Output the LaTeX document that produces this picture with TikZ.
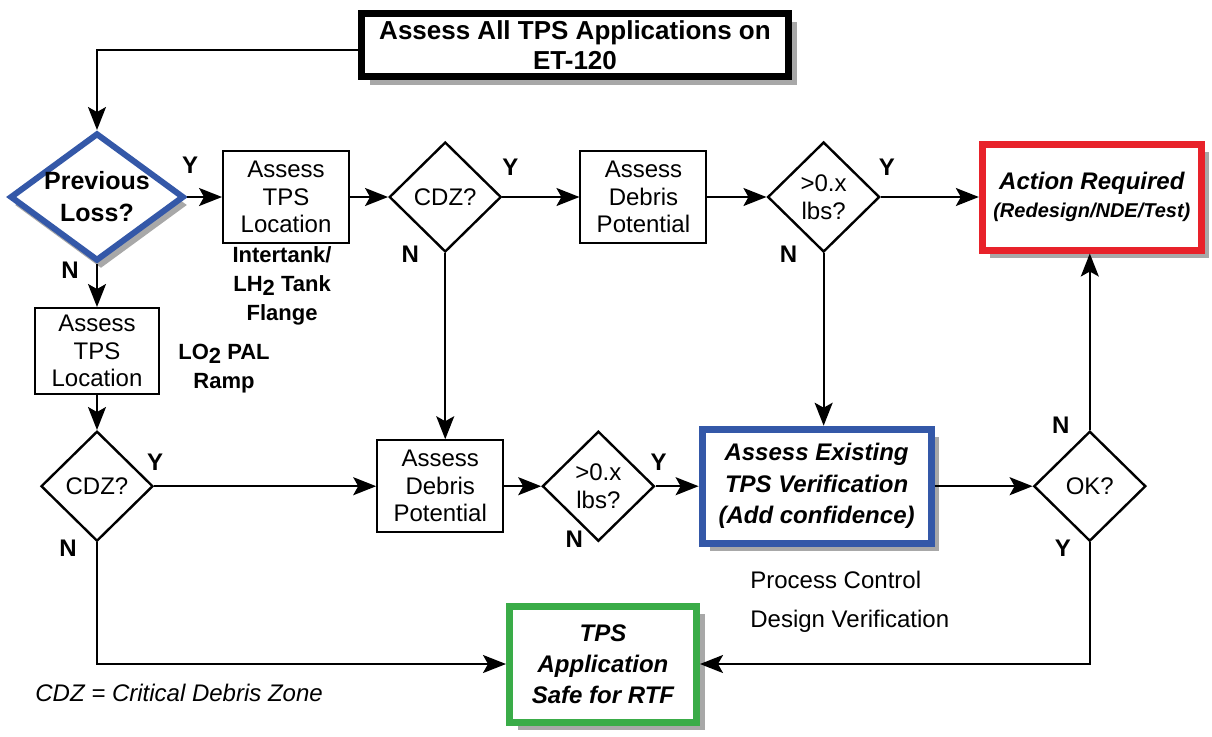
\documentclass[tikz,border=0pt]{standalone}
\usepackage{fontspec}
\setmainfont{Liberation Sans}
\usetikzlibrary{
	positioning,
	arrows.meta,
	shapes.geometric,
	shadows
}

\definecolor{lossblue}{RGB}{52,88,168}
\definecolor{actred}{RGB}{232,34,42}
\definecolor{safegreen}{RGB}{58,172,72}
\definecolor{shadowgray}{RGB}{168,168,168}

\begin{document}
\begin{tikzpicture}[
			x=0.5pt, y=-0.5pt,
			box/.style={
				draw,
				line width=1pt,
				minimum width=63pt,
				minimum height=46pt,
				inner sep=2pt,
				align=center,
				font=\fontsize{12}{13.75}\selectfont
			},
			decide/.style={
				diamond,
				draw,
				line width=1.2pt,
				minimum width=56pt,
				minimum height=55pt,
				inner sep=0pt,
				align=center,
				font=\fontsize{12}{13.75}\selectfont
			},
			heavy/.style={
				draw,
				line width=3.5pt,
				fill=white,
				inner sep=1pt,
				align=center,
				drop shadow={shadow xshift=4pt,shadow yshift=-4pt,fill=shadowgray,opacity=1}
			},
			yn/.style={font=\bfseries\fontsize{12}{14}\selectfont,inner sep=0pt},
			tag/.style={font=\bfseries\fontsize{11}{14.5}\selectfont,align=center,inner sep=0pt},
			note/.style={font=\fontsize{12}{14}\selectfont,inner sep=0pt},
			arrow/.style={-{Stealth[length=11.5pt,width=9pt,inset=2.5pt]},line width=1pt}
			]
			
			\useasboundingbox (0,0) rectangle (1212,736);
			
			\node[heavy,minimum width=213.5pt,minimum height=31.5pt,
				font=\bfseries\fontsize{13}{15}\selectfont] (top) at (575,45)
			{Assess All TPS Applications on\\ET-120};
			
			\node[decide,draw=lossblue,line width=3pt,fill=white,aspect=1.36,
				minimum width=84pt,minimum height=60pt,
				drop shadow={shadow xshift=2pt,shadow yshift=-4pt,fill=shadowgray,opacity=1},
				font=\bfseries\fontsize{12.5}{16}\selectfont] (loss) at (97,197)
			{Previous\\Loss?};
			
			\node[box,right=17.5pt of loss] (locA)
			{Assess\\TPS\\Location};
			
			\node[decide,right=19pt of locA] (cdzA)
			{CDZ?};
			
			\node[box,right=38.5pt of cdzA] (debA)
			{Assess\\Debris\\Potential};
			
			\node[decide,right=29.5pt of debA] (lbsA)
			{>0.x\\lbs?};
			
			\node[heavy,draw=actred,right=49pt of lbsA,minimum width=109.5pt,minimum height=53pt,
				font=\bfseries\itshape\fontsize{12}{14}\selectfont] (act)
			{Action Required\\{\fontsize{10}{14}\selectfont(Redesign/NDE/Test)}};
			
			\node[box,below=21.5pt of loss,minimum width=62pt,minimum height=43pt] (locB)
			{Assess\\TPS\\Location};
			
			\node[decide,below=17.5pt of locB] (cdzB)
			{CDZ?};
			
			\node[box,right=111pt of cdzB] (debB)
			{Assess\\Debris\\Potential};
			
			\node[decide,right=18.5pt of debB] (lbsB)
			{>0.x\\lbs?};
			
			\node[heavy,draw=lossblue,right=21.5pt of lbsB,minimum width=114.5pt,minimum height=57pt,
				font=\bfseries\itshape\fontsize{12}{15.75}\selectfont] (exist)
			{Assess Existing\\TPS Verification\\(Add confidence)};
			
			\node[decide,right=49pt of exist] (ok)
			{OK?};
			
			\node[heavy,draw=safegreen,minimum width=93.5pt,minimum height=58pt,
				font=\bfseries\itshape\fontsize{12}{15.5}\selectfont] (safe) at (603,664)
			{TPS\\Application\\Safe for RTF};
			
			% side notes
			\node[tag,below=1pt of locA,xshift=-2pt] (itank)
			{Intertank/\\LH\raisebox{-0.35ex}{2} Tank\\Flange};
			\node[tag,right=9pt of locB,yshift=-9pt] (lox)
			{LO\raisebox{-0.35ex}{2} PAL\\Ramp};
			\node[note,anchor=west] (pctl) at (750,580) {Process Control};
			\node[note,below=20.5pt of pctl.west,anchor=west] (dver) {Design Verification};
			\node[note,font=\itshape\fontsize{12}{14}\selectfont,anchor=west] (legend) at (35,693)
			{CDZ = Critical Debris Zone};
			
			% Y / N
			\node[yn] (lossY) at ([shift={(3,-32)}]loss.east) {Y};
			\node[yn] (lossN) at ([shift={(-27,6)}]loss.south) {N};
			\node[yn] (cdzAY) at ([shift={(8,-30)}]cdzA.east) {Y};
			\node[yn] (cdzAN) at ([shift={(-35,1)}]cdzA.south) {N};
			\node[yn] (lbsAY) at ([shift={(6,-30)}]lbsA.east) {Y};
			\node[yn] (lbsAN) at ([shift={(-35,1)}]lbsA.south) {N};
			\node[yn] (cdzBY) at ([shift={(1,-24)}]cdzB.east) {Y};
			\node[yn] (cdzBN) at ([shift={(-29,6)}]cdzB.south) {N};
			\node[yn] (lbsBY) at ([shift={(3,-24)}]lbsB.east) {Y};
			\node[yn] (lbsBN) at ([shift={(-24,-3)}]lbsB.south) {N};
			\node[yn] (okN) at ([shift={(-29,-5)}]ok.north) {N};
			\node[yn] (okY) at ([shift={(-27,6)}]ok.south) {Y};
			
			\draw[arrow] ([yshift=-2.5pt]top.west) -| (loss.north);
			\draw[arrow] (loss.east)--(locA.west);
			\draw[arrow] (loss.south)--(locB.north);
			\draw[arrow] (locA.east)--(cdzA.west);
			\draw[arrow] (cdzA.east)--(debA.west);
			\draw[arrow] (cdzA.south)--(cdzA.south |- debB.north);
			\draw[arrow] (debA.east)--(lbsA.west);
			\draw[arrow] (lbsA.east)--(act.west);
			\draw[arrow] (lbsA.south)--(lbsA.south |- exist.north);
			\draw[arrow] (locB.south)--(cdzB.north);
			\draw[arrow] (cdzB.east)--(debB.west);
			\draw[arrow] (cdzB.south) |- (safe.west);
			\draw[arrow] (debB.east)--(lbsB.west);
			\draw[arrow] (lbsB.east)--(exist.west);
			\draw[arrow] (exist.east)--(ok.west);
			\draw[arrow] (ok.north)--(ok.north |- act.south);
			\draw[arrow] (ok.south) |- (safe.east);
			
		\end{tikzpicture}
\end{document}
